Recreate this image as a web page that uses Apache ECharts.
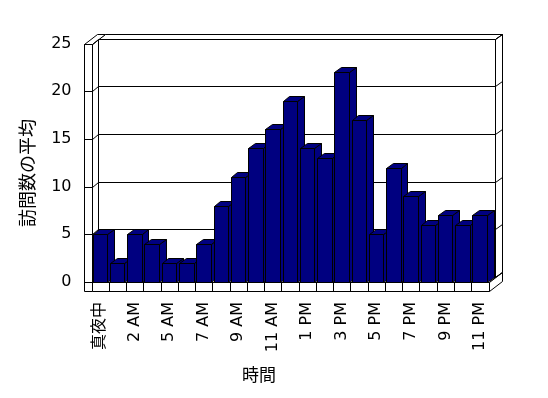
<!DOCTYPE html>
<html>
<head>
<meta charset="utf-8">
<style>
html,body{margin:0;padding:0;background:#fff;}
#chart{width:548px;height:398px;}
</style>
<script src="https://cdn.jsdelivr.net/npm/echarts@6/dist/echarts.min.js"></script>
</head>
<body>
<div id="chart"></div>
<script>
// ---- data ----
var categories = ["真夜中","1 AM","2 AM","3 AM","5 AM","6 AM","7 AM","8 AM","9 AM","10 AM","11 AM","12 PM",
                  "1 PM","2 PM","3 PM","4 PM","5 PM","6 PM","7 PM","8 PM","9 PM","10 PM","11 PM"];
var visits = [5,2,5,4,2,2,4,8,11,14,16,19,14,13,22,17,5,12,9,6,7,6,7];
var yTicks = [0,5,10,15,20,25];
var yAxisTitle = "訪問数の平均";
var xAxisTitle = "時間";

// ---- style constants ----
var DX = 6.7, DY = -5, WALL = 8, FLOOR = 9;
var BAR_FILL = "#000080";
var FONT = "DejaVu Sans, Noto Sans CJK JP, sans-serif";
function px(v){ return Math.round(v) + 0.5; }
function P(pts){ return pts.map(function(p){ return [px(p[0]), px(p[1])]; }); }

var chart = echarts.init(document.getElementById('chart'), null, {renderer:'canvas'});

function poly(pts, fill){
  return {type:'polygon', shape:{points:P(pts)}, style:{fill:fill||'#fff', stroke:'#000', lineWidth:1}};
}
function line(a,b){
  return {type:'line', shape:{x1:px(a[0]),y1:px(a[1]),x2:px(b[0]),y2:px(b[1])}, style:{stroke:'#000', lineWidth:1}};
}

function renderFrame(params, api){
  var cs = params.coordSys;
  var L = cs.x, R = cs.x + cs.width, T = cs.y, B = cs.y + cs.height;
  var ch = [];
  // back wall inner face
  ch.push(poly([[L+DX,T+DY],[R+DX,T+DY],[R+DX,B+DY],[L+DX,B+DY]]));
  // back wall top
  ch.push(poly([[L+DX,T+DY],[R+DX,T+DY],[R+2*DX,T+2*DY],[L+2*DX,T+2*DY]]));
  // back wall right side
  ch.push(poly([[R+DX,T+DY],[R+2*DX,T+2*DY],[R+2*DX,B+2*DY],[R+DX,B+DY]]));
  // floor top
  ch.push(poly([[L,B],[R,B],[R+DX,B+DY],[L+DX,B+DY]]));
  // floor right side
  ch.push(poly([[R,B],[R+2*DX,B+2*DY],[R+2*DX,B+2*DY+FLOOR],[R,B+FLOOR]]));
  // floor front
  ch.push(poly([[L,B],[R,B],[R,B+FLOOR],[L,B+FLOOR]]));
  // left wall inner face
  ch.push(poly([[L,T],[L+DX,T+DY],[L+DX,B+DY],[L,B]]));
  // left wall top
  ch.push(poly([[L-WALL,T],[L,T],[L+2*DX,T+2*DY],[L-WALL+2*DX,T+2*DY]]));
  // left wall front
  ch.push(poly([[L-WALL,T],[L,T],[L,B+FLOOR],[L-WALL,B+FLOOR]]));
  // gridlines
  yTicks.forEach(function(v){
    var fy = api.coord([0, v])[1];
    var by = fy + DY;
    ch.push(line([L-WALL,fy],[L,fy]));
    ch.push(line([L,fy],[L+DX,by]));
    ch.push(line([L+DX,by],[R+DX,by]));
    ch.push(line([R+DX,by],[R+2*DX,by+DY]));
  });
  // category ticks on floor front
  var bw = api.size([1,0])[0];
  for (var i=1;i<categories.length;i++){
    var x = L + i*bw;
    ch.push(line([x,B],[x,B+FLOOR]));
  }
  return {type:'group', children:ch};
}

function renderBar(params, api){
  var idx = api.value(0), v = api.value(1);
  var top = api.coord([idx, v]);
  var base = api.coord([idx, 0]);
  var bw = api.size([1,0])[0];
  var x0 = top[0] - bw/2 + 1.2, w = 14.5;
  var yt = top[1], yb = base[1];
  return {type:'group', children:[
    poly([[x0+w,yt],[x0+w+DX,yt+DY],[x0+w+DX,yb+DY],[x0+w,yb]], BAR_FILL),
    poly([[x0,yt],[x0+w,yt],[x0+w+DX,yt+DY],[x0+DX,yt+DY]], BAR_FILL),
    poly([[x0,yt],[x0+w,yt],[x0+w,yb],[x0,yb]], BAR_FILL)
  ]};
}

chart.setOption({
  animation:false,
  backgroundColor:'#fff',
  grid:{left:91.5, right:59.5, top:43.5, bottom:116},
  xAxis:{
    type:'category', data:categories,
    axisLine:{show:false}, axisTick:{show:false}, splitLine:{show:false},
    axisLabel:{interval:1, rotate:90, margin:20, color:'#000', fontSize:16, fontFamily:FONT}
  },
  yAxis:{
    type:'value', min:0, max:25, interval:5,
    axisLine:{show:false}, axisTick:{show:false}, splitLine:{show:false},
    axisLabel:{margin:20, color:'#000', fontSize:16, fontFamily:FONT}
  },
  graphic:[
    {type:'text', x:29, y:173, rotation:Math.PI/2,
     style:{text:yAxisTitle, fill:'#000', fontSize:18, fontFamily:FONT, align:'center', verticalAlign:'middle'}},
    {type:'text', x:259, y:377,
     style:{text:xAxisTitle, fill:'#000', fontSize:17, fontFamily:FONT, align:'center', verticalAlign:'middle'}}
  ],
  series:[
    {type:'custom', z:1, renderItem:renderFrame, data:[[0,0]], silent:true},
    {type:'custom', z:2, renderItem:renderBar, silent:true,
     data:visits.map(function(v,i){ return [i, v]; })}
  ]
});
</script>
</body>
</html>
